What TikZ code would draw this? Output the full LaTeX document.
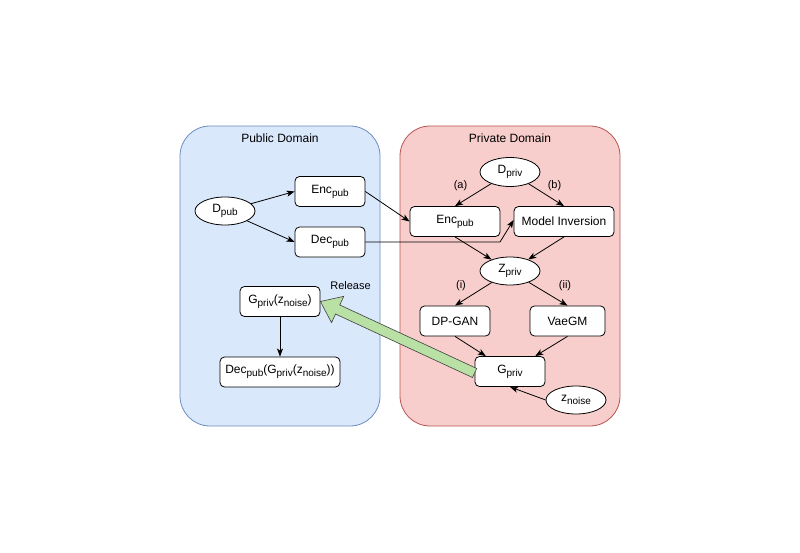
\documentclass[tikz,border=0pt]{standalone}
\usepackage{fontspec}
\setmainfont{Liberation Sans}
\usetikzlibrary{shapes.geometric,arrows.meta,calc}
\definecolor{pubfill}{HTML}{DAE8FC}
\definecolor{publine}{HTML}{6C8EBF}
\definecolor{privfill}{HTML}{F8CECC}
\definecolor{privline}{HTML}{B85450}
\definecolor{relfill}{HTML}{B9E0A5}
\newcommand{\sbs}[1]{\raisebox{-3pt}{\fontsize{10}{12}\selectfont #1}}
\begin{document}
\begin{tikzpicture}[x=1pt,y=-1pt,
  every node/.style={font=\fontsize{12}{14}\selectfont},
  domainbox/.style={rounded corners=30pt, line width=0.8pt},
  box/.style={draw, fill=white, rounded corners=4.5pt, minimum height=30pt, inner sep=0pt, line width=0.8pt},
  ell/.style={draw, fill=white, ellipse, minimum width=60pt, minimum height=28pt, inner sep=0pt, line width=0.8pt},
  conn/.style={draw, line width=0.8pt, -{Stealth[length=8pt,width=6pt,inset=2pt]}},
  lbl/.style={font=\fontsize{11}{13}\selectfont, inner sep=0pt}]
\useasboundingbox (0,0) rectangle (800,553);
% containers
\draw[domainbox, fill=pubfill, draw=publine] (180,126) rectangle (380,426);
\draw[domainbox, fill=privfill, draw=privline] (400,126) rectangle (620,426);
\node[inner sep=0pt] (tpub) at (280,138) {Public Domain};
\node[inner sep=0pt] (tpriv) at (510,138) {Private Domain};
% public nodes
\node[ell] (Dpub) at (225,211) {D\sbs{pub}};
\node[box, minimum width=70pt] (EncL) at (330,191.5) {Enc\sbs{pub}};
\node[box, minimum width=70pt] (DecL) at (330,242) {Dec\sbs{pub}};
\node[box, minimum width=80pt] (Gz) at (280,301.5) {G\sbs{priv}(z\sbs{noise})};
\node[box, minimum width=120pt] (Dz) at (280,372) {Dec\sbs{pub}(G\sbs{priv}(z\sbs{noise}))};
% private nodes
\node[ell, minimum height=29pt] (Dpriv) at (510,172) {D\sbs{priv}};
\node[box, minimum width=90pt] (EncR) at (455,221.5) {Enc\sbs{pub}};
\node[box, minimum width=100pt] (MI) at (564,221.5) {Model Inversion};
\node[ell] (Zp) at (510,271) {Z\sbs{priv}};
\node[box, minimum width=70pt] (DPGAN) at (455,321) {DP-GAN};
\node[box, minimum width=75pt] (Vae) at (567.5,321) {VaeGM};
\node[box, minimum width=70pt] (Gp) at (510,371.5) {G\sbs{priv}};
\node[ell] (zn) at (576,400) {z\sbs{noise}};
% connectors
\draw[conn] (Dpub) -- (EncL.west);
\draw[conn] (Dpub) -- (DecL.west);
\draw[conn] (EncL.east) -- (EncR.west);
\coordinate (bend) at (500,242);
\draw[conn] (DecL.east) -- (bend) -- ([yshift=1.5pt]MI.west);
\draw[conn] (Dpriv) -- (EncR.north);
\draw[conn] (Dpriv) -- (MI.north);
\draw[conn] (EncR.south) -- (Zp);
\draw[conn] (MI.south) -- (Zp);
\draw[conn] (Zp) -- (DPGAN.north);
\draw[conn] (Zp) -- (Vae.north);
\draw[conn] (DPGAN.south) -- (Gp);
\draw[conn] (Vae.south) -- (Gp);
\draw[conn] (zn.west) -- (Gp.south);
\draw[conn] (Gz.south) -- (Dz.north);
% labels
\node[lbl] (la) at (460.5,186) {(a)};
\node[lbl] (lb) at (554.5,186) {(b)};
\node[lbl] (li) at (461,286) {(i)};
\node[lbl] (lii) at (565,286) {(ii)};
\node[lbl] (rel) at (350.5,286) {Release};
% release arrow
\coordinate (tip) at (Gz.east);
\coordinate (tail) at ([yshift=-1.5pt]Gp.west);
\draw[fill=relfill, draw=black!75, line width=0.6pt, line join=miter]
  (tip)
  -- ($(tip)!19pt!(tail)!14.5pt!90:(tail)$)
  -- ($(tip)!19pt!(tail)!5pt!90:(tail)$)
  -- ($(tail)!5pt!-90:(tip)$)
  -- ($(tail)!5pt!90:(tip)$)
  -- ($(tip)!19pt!(tail)!5pt!-90:(tail)$)
  -- ($(tip)!19pt!(tail)!14.5pt!-90:(tail)$)
  -- cycle;
\end{tikzpicture}
\end{document}
